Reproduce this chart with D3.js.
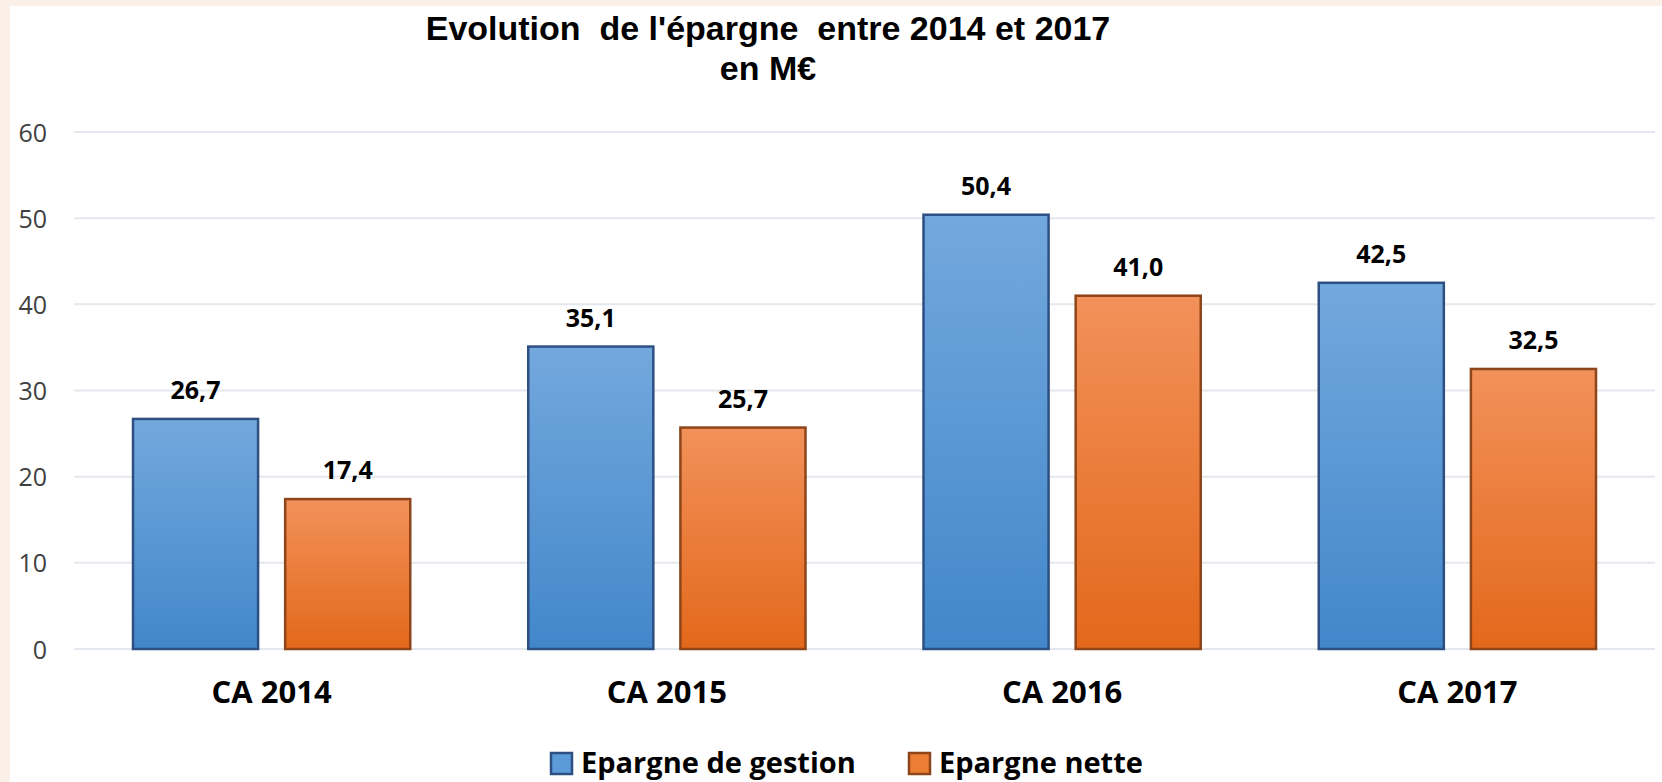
<!DOCTYPE html>
<html>
<head>
<meta charset="utf-8">
<script src="https://cdn.jsdelivr.net/npm/d3@7"></script>
<style>
	body { margin: 0; background: #fbf0e8; }
	svg { display: block; }
</style>
</head>
<body>
<script>
// données
const categories = ["CA 2014", "CA 2015", "CA 2016", "CA 2017"];
const series = ["Epargne de gestion", "Epargne nette"];
const gestion = [26.7, 35.1, 50.4, 42.5];
const nette = [17.4, 25.7, 41.0, 32.5];
const yTicks = [0, 10, 20, 30, 40, 50, 60];

const WIDTH = 1662;
const HEIGHT = 782;

const svg = d3
	.select("body")
	.append("svg")
	.attr("width", WIDTH)
	.attr("height", HEIGHT);

// fond blanc avec la bordure saumon en haut et à gauche
svg.append("rect")
	.attr("x", 10)
	.attr("y", 6)
	.attr("width", WIDTH - 10)
	.attr("height", HEIGHT - 6)
	.attr("fill", "#ffffff");

const defs = svg.append("defs");
const gradBlue = defs.append("linearGradient")
	.attr("id", "gradBlue")
	.attr("x1", 0).attr("y1", 0).attr("x2", 0).attr("y2", 1);
gradBlue.append("stop").attr("offset", "0%").attr("stop-color", "#73a8dd");
gradBlue.append("stop").attr("offset", "100%").attr("stop-color", "#4287ca");

const gradOrange = defs.append("linearGradient")
	.attr("id", "gradOrange")
	.attr("x1", 0).attr("y1", 0).attr("x2", 0).attr("y2", 1);
gradOrange.append("stop").attr("offset", "0%").attr("stop-color", "#f2915a");
gradOrange.append("stop").attr("offset", "100%").attr("stop-color", "#e3681b");

const fills = ["url(#gradBlue)", "url(#gradOrange)"];
const strokes = ["#2d4f82", "#8e4519"];
const legendFills = ["#5b9bd8", "#ee7d34"];

const x0 = d3.scaleBand()
	.domain(categories)
	.range([74, 1655]);

const x1 = d3.scaleBand()
	.domain(series)
	.range([59, x0.bandwidth() - 59])
	.paddingInner(0.178);

const y = d3.scaleLinear()
	.domain([0, 60])
	.range([649, 132]);

// grille
svg.append("g")
	.selectAll("line")
	.data(yTicks)
	.enter()
	.append("line")
	.attr("x1", 74)
	.attr("x2", 1655)
	.attr("y1", (d) => y(d))
	.attr("y2", (d) => y(d))
	.attr("stroke", "#e3e7ee")
	.attr("stroke-width", 2);

// axe Y
const yAxis = svg.append("g")
	.attr("transform", "translate(47,0)")
	.call(d3.axisLeft(y).tickValues(yTicks).tickSize(0).tickPadding(0));
yAxis.select(".domain").remove();
yAxis.selectAll("text")
	.attr("font-family", "'Open Sans', sans-serif")
	.attr("font-size", 25)
	.attr("fill", "#404040")
	.attr("dy", "0.36em");

// axe X
const xAxis = svg.append("g")
	.attr("transform", "translate(0,649)")
	.call(d3.axisBottom(x0).tickSize(0).tickPadding(0));
xAxis.select(".domain").remove();
xAxis.selectAll("text")
	.attr("font-family", "'Open Sans', sans-serif")
	.attr("font-weight", "bold")
	.attr("font-size", 31)
	.attr("fill", "#000")
	.attr("dy", null)
	.attr("y", 54);

const rows = categories.map((c, i) => ({ cat: c, values: [gestion[i], nette[i]] }));

const groups = svg.append("g")
	.selectAll("g")
	.data(rows)
	.enter()
	.append("g")
	.attr("transform", (d) => `translate(${x0(d.cat)},0)`);

groups.selectAll("rect")
	.data((d) => d.values.map((v, j) => ({ s: series[j], v: v, j: j })))
	.enter()
	.append("rect")
	.attr("x", (d) => x1(d.s))
	.attr("y", (d) => y(d.v))
	.attr("width", x1.bandwidth())
	.attr("height", (d) => y(0) - y(d.v))
	.attr("fill", (d) => fills[d.j])
	.attr("stroke", (d) => strokes[d.j])
	.attr("stroke-width", 2.5);

groups.selectAll("text.val")
	.data((d) => d.values.map((v, j) => ({ s: series[j], v: v })))
	.enter()
	.append("text")
	.attr("class", "val")
	.attr("x", (d) => x1(d.s) + x1.bandwidth() / 2)
	.attr("y", (d) => y(d.v) - 20)
	.attr("text-anchor", "middle")
	.attr("font-family", "'Open Sans', sans-serif")
	.attr("font-weight", "bold")
	.attr("font-size", 25)
	.attr("fill", "#000")
	.text((d) => d.v.toFixed(1).replace(".", ","));

// titre
const title = svg.append("text")
	.attr("x", 768)
	.attr("text-anchor", "middle")
	.attr("font-family", "'Liberation Sans', Arial, sans-serif")
	.attr("font-weight", "bold")
	.attr("font-size", 34)
	.attr("fill", "#000")
	.style("white-space", "pre");
title.append("tspan").attr("x", 768).attr("y", 40).text("Evolution  de l'épargne  entre 2014 et 2017");
title.append("tspan").attr("x", 768).attr("y", 80).text("en M€");

// légende
const legendX = [551, 909];
const legend = svg.append("g")
	.selectAll("g")
	.data(series)
	.enter()
	.append("g")
	.attr("transform", (d, i) => `translate(${legendX[i]},753)`);

legend.append("rect")
	.attr("width", 21)
	.attr("height", 21)
	.attr("fill", (d, i) => legendFills[i])
	.attr("stroke", (d, i) => strokes[i])
	.attr("stroke-width", 2.5);

legend.append("text")
	.attr("x", 30)
	.attr("y", 20)
	.attr("font-family", "'Open Sans', sans-serif")
	.attr("font-weight", "bold")
	.attr("font-size", 29)
	.attr("fill", "#000")
	.text((d) => d);
</script>
</body>
</html>
